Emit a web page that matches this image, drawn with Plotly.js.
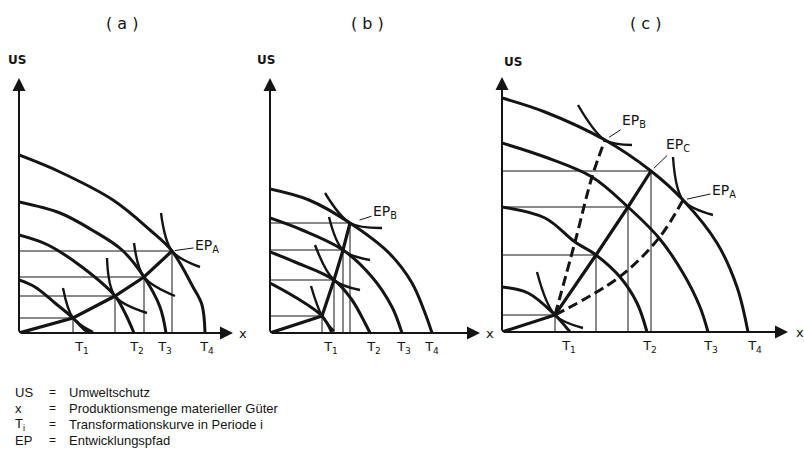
<!DOCTYPE html>
<html><head><meta charset="utf-8">
<script src="https://cdn.plot.ly/plotly-3.0.1.min.js"></script>
<style>html,body{margin:0;padding:0;background:#fff}#chart{width:804px;height:466px}</style>
</head><body><div id="chart"></div>
<script>
// ---------- DATA (units = drawing units from each origin) ----------
// Panel (a): transformation curves T1..T4, development path EP_A, indifference arcs
const a_T1 = [[0,53],[16,46],[36,30],[54,15],[66,3],[71,0]];
const a_T2 = [[0,98],[29,88],[63,66],[96,37],[106,20],[115,0]];
const a_T3 = [[0,131],[41,120],[73,103],[103,83],[125,56],[141,26],[147,0]];
const a_T4 = [[0,178],[41,161],[94,133],[131,103],[153,82],[174,46],[183,28],[186,0]];
const a_EP = [[0,0],[54,15],[96,37],[125,56],[153,82]];
const a_I1 = [[44,45],[54,15],[74,1]];
const a_I2 = [[88,75],[96,37],[128,20]];
const a_I3 = [[115,90],[125,56],[156,37]];
const a_I4 = [[142,120],[153,82],[181,66]];
// Panel (b)
const b_T1 = [[0,50],[25,36],[52,17],[62,0]];
const b_T2 = [[0,81],[25,71],[64,53],[82,33],[95,10],[100,0]];
const b_T3 = [[0,115],[32,103],[73,83],[102,56],[122,26],[132,0]];
const b_T4 = [[0,144],[39,133],[80,110],[119,80],[142,50],[155,20],[162,0]];
const b_EP = [[0,0],[52,17],[64,53],[73,83],[80,110]];
const b_I1 = [[41,47],[52,17],[64,2]];
const b_I2 = [[45,88],[64,53],[90,43]];
const b_I3 = [[59,116],[73,83],[100,73]];
const b_I4 = [[55,140],[80,110],[112,105]];
// Panel (c)
const c_T1 = [[0,45],[26,39],[53,17],[68,0]];
const c_T2 = [[0,125],[43,114],[73,90],[94,77],[118,55],[135,29],[145,0]];
const c_T3 = [[0,189],[43,175],[90,155],[126,125],[157,94],[181,59],[198,25],[206,0]];
const c_T4 = [[0,234],[43,220],[103,192],[149,161],[181,132],[215,89],[235,45],[246,0]];
const c_EPC = [[0,0],[53,17],[94,77],[126,125],[149,161]];
const c_EPB = [[53,17],[73,90],[90,155],[103,192]];
const c_EPA = [[53,17],[116,54],[157,94],[181,132]];
const c_I1 = [[35,60],[53,17],[81,4]];
const c_IB = [[76,227],[103,192],[130,187]];
const c_IA = [[171,175],[181,132],[211,117]];
// Tick labels (positions of the T labels along x)
const tickText = ['T<sub>1</sub>','T<sub>2</sub>','T<sub>3</sub>','T<sub>4</sub>'];
const a_tickPos = [63,118,146,188];
const b_tickPos = [61,104,134,162];
const c_tickPos = [67,148,209,253];
const panelTitles = ['( a )','( b )','( c )'];
// Key
const keyTerms = ['US','x','T<sub>i</sub>','EP'];
const keyDefs = ['Umweltschutz','Produktionsmenge materieller Güter','Transformationskurve in Periode i','Entwicklungspfad'];

// ---------- BUILD ----------
const W = 804, H = 466, INK = '#141414', FONT = 'DejaVu Sans', KEYFONT = 'Liberation Sans';
const panels = [
  {ox:19,  oy:333, w:226, h:258, xEnd:214, yEnd:255, xLab:4, title:[122,23], us:[17,60], ticks:a_tickPos, sx:'x',  sy:'y'},
  {ox:270, oy:333, w:220, h:258, xEnd:210, yEnd:255, xLab:4, title:[367,23], us:[266,60], ticks:b_tickPos, sx:'x2', sy:'y2'},
  {ox:502, oy:332, w:300, h:258, xEnd:286, yEnd:255, xLab:6, title:[645,23], us:[513,62], ticks:c_tickPos, sx:'x3', sy:'y3'}
];
const traces = [];
function curve(pts, p, width, dash, shape){
  traces.push({x:pts.map(q=>q[0]), y:pts.map(q=>q[1]), xaxis:p.sx, yaxis:p.sy,
    mode:'lines', line:{color:INK, width:width, dash:dash||'solid', shape:shape||'spline', smoothing:1},
    hoverinfo:'skip', showlegend:false});
}
function guides(eps, p){
  eps.forEach(e=>{ if(e[0]===0 && e[1]===0) return;
    traces.push({x:[0,e[0],e[0]], y:[e[1],e[1],0], xaxis:p.sx, yaxis:p.sy, mode:'lines',
      line:{color:INK, width:1}, hoverinfo:'skip', showlegend:false});
  });
}
const [pa,pb,pc] = panels;
guides(a_EP, pa); guides(b_EP, pb); guides(c_EPC, pc);
[a_T1,a_T2,a_T3,a_T4].forEach(t=>curve(t,pa,3));
[b_T1,b_T2,b_T3,b_T4].forEach(t=>curve(t,pb,3));
[c_T1,c_T2,c_T3,c_T4].forEach(t=>curve(t,pc,3));
curve(a_EP,pa,3.2,'solid','linear');
curve(b_EP,pb,3.2,'solid','linear');
curve(c_EPC,pc,3.2,'solid','linear');
curve(c_EPB,pc,3,'10px,5px','spline');
curve(c_EPA,pc,3,'10px,5px','spline');
[a_I1,a_I2,a_I3,a_I4].forEach(t=>curve(t,pa,2.4));
[b_I1,b_I2,b_I3,b_I4].forEach(t=>curve(t,pb,2.4));
[c_I1,c_IB,c_IA].forEach(t=>curve(t,pc,2.4));

const layout = {width:W, height:H, margin:{l:0,r:0,t:0,b:0}, paper_bgcolor:'#fff', plot_bgcolor:'rgba(0,0,0,0)',
  showlegend:false, font:{family:FONT, color:INK}, annotations:[]};
panels.forEach((p,i)=>{
  const k = i===0 ? '' : String(i+1);
  layout['xaxis'+k] = {domain:[p.ox/W,(p.ox+p.w)/W], range:[0,p.w], anchor:'y'+k,
    showgrid:false, zeroline:false, showline:false, ticks:'', tickvals:p.ticks, ticktext:tickText,
    ticklabelstandoff:4, tickfont:{size:13, family:FONT, color:INK}, fixedrange:true};
  layout['yaxis'+k] = {domain:[1-p.oy/H, 1-(p.oy-p.h)/H], range:[0,p.h], anchor:'x'+k,
    showgrid:false, zeroline:false, showline:false, showticklabels:false, ticks:'', fixedrange:true};
  const xr = p.sx, yr = p.sy;
  // axes with arrowheads
  layout.annotations.push({xref:xr, yref:yr, x:p.xEnd, y:0, axref:xr, ayref:yr, ax:0, ay:0, text:'',
    showarrow:true, arrowhead:2, arrowsize:1.3, arrowwidth:2, arrowcolor:INK});
  layout.annotations.push({xref:xr, yref:yr, x:0, y:p.yEnd, axref:xr, ayref:yr, ax:0, ay:0, text:'',
    showarrow:true, arrowhead:2, arrowsize:1.3, arrowwidth:2, arrowcolor:INK});
  // axis names
  layout.annotations.push({xref:xr, yref:yr, x:p.xEnd+p.xLab, y:0, text:'x', showarrow:false, xanchor:'left', yanchor:'middle',
    font:{size:13, family:FONT, color:INK}});
  layout.annotations.push({xref:'paper', yref:'paper', x:p.us[0]/W, y:1-p.us[1]/H, text:'<b>US</b>', showarrow:false,
    xanchor:'center', yanchor:'middle', font:{size:12, family:FONT, color:INK}});
  // panel title
  layout.annotations.push({xref:'paper', yref:'paper', x:p.title[0]/W, y:1-p.title[1]/H, text:panelTitles[i], showarrow:false,
    xanchor:'center', yanchor:'middle', font:{size:16, family:FONT, color:INK}});
});
function epLabel(pt, p, sub, ax, ay, standoff){
  layout.annotations.push({xref:p.sx, yref:p.sy, x:pt[0], y:pt[1], text:'EP<sub>'+sub+'</sub>',
    showarrow:true, arrowhead:0, arrowwidth:1, arrowcolor:INK, ax:ax, ay:ay, standoff:standoff,
    font:{size:14, family:FONT, color:INK}});
}
epLabel(a_EP[a_EP.length-1], pa, 'A', 35, -5, 3);
epLabel(b_EP[b_EP.length-1], pb, 'B', 35, -11, 10);
epLabel(c_EPB[c_EPB.length-1], pc, 'B', 29, -19, 5);
epLabel(c_EPC[c_EPC.length-1], pc, 'C', 27, -26, 4);
epLabel(c_EPA[c_EPA.length-1], pc, 'A', 41, -9, 4);
// key
const keyY = [392,408,424,440];
keyTerms.forEach((t,i)=>{
  const y = 1-keyY[i]/H;
  layout.annotations.push({xref:'paper', yref:'paper', x:13/W, y:y, text:t, showarrow:false, xanchor:'left', yanchor:'middle', font:{size:13, family:KEYFONT, color:INK}});
  layout.annotations.push({xref:'paper', yref:'paper', x:47/W, y:y, text:'=', showarrow:false, xanchor:'left', yanchor:'middle', font:{size:12, family:KEYFONT, color:INK}});
  layout.annotations.push({xref:'paper', yref:'paper', x:67/W, y:y, text:keyDefs[i], showarrow:false, xanchor:'left', yanchor:'middle', font:{size:13, family:KEYFONT, color:INK}});
});
Plotly.newPlot('chart', traces, layout, {staticPlot:true, displayModeBar:false});
</script></body></html>
